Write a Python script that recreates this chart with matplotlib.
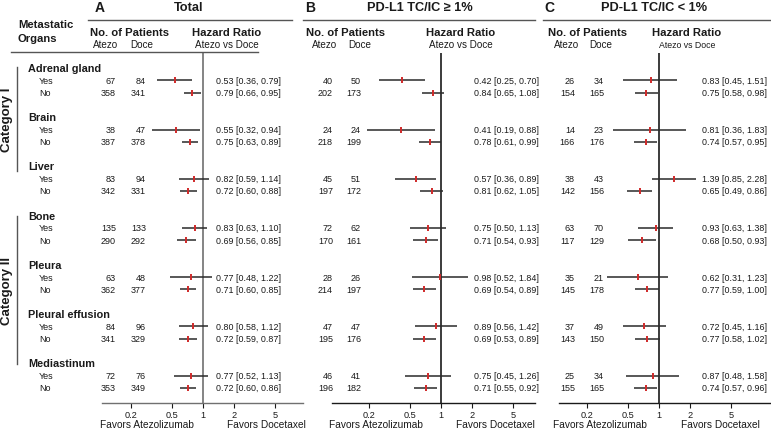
import matplotlib.pyplot as plt
import matplotlib.transforms as mtransforms

plt.rcParams['font.family'] = ['Liberation Sans', 'DejaVu Sans']

organs = ['Adrenal gland', 'Brain', 'Liver', 'Bone', 'Pleura',
          'Pleural effusion', 'Mediastinum']
row_labels = ['Yes', 'No']

# values per row: Adrenal Yes, Adrenal No, Brain Yes, Brain No, ...
total_atezo = [67, 358, 38, 387, 83, 342, 135, 290, 63, 362, 84, 341, 72, 353]
total_doce = [84, 341, 47, 378, 94, 331, 133, 292, 48, 377, 96, 329, 76, 349]
total_hr = [0.53, 0.79, 0.55, 0.75, 0.82, 0.72, 0.83, 0.69, 0.77, 0.71, 0.80, 0.72, 0.77, 0.72]
total_lo = [0.36, 0.66, 0.32, 0.63, 0.59, 0.60, 0.63, 0.56, 0.48, 0.60, 0.58, 0.59, 0.52, 0.60]
total_hi = [0.79, 0.95, 0.94, 0.89, 1.14, 0.88, 1.10, 0.85, 1.22, 0.85, 1.12, 0.87, 1.13, 0.86]

pos_atezo = [40, 202, 24, 218, 45, 197, 72, 170, 28, 214, 47, 195, 46, 196]
pos_doce = [50, 173, 24, 199, 51, 172, 62, 161, 26, 197, 47, 176, 41, 182]
pos_hr = [0.42, 0.84, 0.41, 0.78, 0.57, 0.81, 0.75, 0.71, 0.98, 0.69, 0.89, 0.69, 0.75, 0.71]
pos_lo = [0.25, 0.65, 0.19, 0.61, 0.36, 0.62, 0.50, 0.54, 0.52, 0.54, 0.56, 0.53, 0.45, 0.55]
pos_hi = [0.70, 1.08, 0.88, 0.99, 0.89, 1.05, 1.13, 0.93, 1.84, 0.89, 1.42, 0.89, 1.26, 0.92]

neg_atezo = [26, 154, 14, 166, 38, 142, 63, 117, 35, 145, 37, 143, 25, 155]
neg_doce = [34, 165, 23, 176, 43, 156, 70, 129, 21, 178, 49, 150, 34, 165]
neg_hr = [0.83, 0.75, 0.81, 0.74, 1.39, 0.65, 0.93, 0.68, 0.62, 0.77, 0.72, 0.77, 0.87, 0.74]
neg_lo = [0.45, 0.58, 0.36, 0.57, 0.85, 0.49, 0.63, 0.50, 0.31, 0.59, 0.45, 0.58, 0.48, 0.57]
neg_hi = [1.51, 0.98, 1.83, 0.95, 2.28, 0.86, 1.38, 0.93, 1.23, 1.00, 1.16, 1.02, 1.58, 0.96]

tick_values = [0.2, 0.5, 1, 2, 5]
tick_labels = ['0.2', '0.5', '1', '2', '5']

# layout in pixels
W, H = 771, 435
ROW0, ROW_H = 69, 12.3
TOP, BOTTOM = 54, 404.3
PX_DECADE = 103
TXT = '#1a1a1a'
RED = '#d02a2a'
BODY = 6.5


def fx(px):
    return px / W


def fy(py):
    return 1 - py / H


panels = [
    dict(letter='A', title='Total', atezo=total_atezo, doce=total_doce,
         hr=total_hr, lo=total_lo, hi=total_hi,
         left=102, right=303, one=203, letter_x=100, title_x=189, uline=(88, 292),
         pat_x=129, at_hdr=106, dc_hdr=142, at_x=116, dc_x=146,
         hr_hdr=227, hr_sub_fs=7.1, txt_x=216, fav=(147, 266), ref='#707070'),
    dict(letter='B', title='PD-L1 TC/IC \u2265 1%', atezo=pos_atezo, doce=pos_doce,
         hr=pos_hr, lo=pos_lo, hi=pos_hi,
         left=332, right=535, one=441, letter_x=310, title_x=420, uline=(303, 535),
         pat_x=346, at_hdr=325, dc_hdr=360, at_x=333, dc_x=361,
         hr_hdr=461, hr_sub_fs=7.1, txt_x=474, fav=(376, 495), ref='#1a1a1a'),
    dict(letter='C', title='PD-L1 TC/IC < 1%', atezo=neg_atezo, doce=neg_doce,
         hr=neg_hr, lo=neg_lo, hi=neg_hi,
         left=559, right=771, one=659, letter_x=549, title_x=654, uline=(543, 771),
         pat_x=587, at_hdr=567, dc_hdr=601, at_x=575, dc_x=604,
         hr_hdr=687, hr_sub_fs=6.3, txt_x=702, fav=(600, 720), ref='#1a1a1a'),
]

fig = plt.figure(figsize=(W / 100, H / 100), dpi=100)
ylim = ((BOTTOM - ROW0) / ROW_H, (TOP - ROW0) / ROW_H)

# row index of each data line (header, yes, no, blank)
data_rows = []
for i in range(len(organs)):
    data_rows += [4 * i + 1, 4 * i + 2]

axes = []
for p in panels:
    ax = fig.add_axes([fx(p['left']), fy(BOTTOM), fx(p['right'] - p['left']),
                       (BOTTOM - TOP) / H])
    ax.set_facecolor('none')
    ax.set_xscale('log')
    ax.set_xlim(10 ** ((p['left'] - p['one']) / PX_DECADE),
                10 ** ((p['right'] - p['one']) / PX_DECADE))
    ax.set_ylim(ylim)
    ax.hlines(data_rows, p['lo'], p['hi'], color='#2a2a2a', lw=1.1, zorder=2)
    ax.plot(p['hr'], data_rows, ls='none', marker='|', ms=5, mew=1.4, color=RED, zorder=3)
    ax.axvline(1, color=p['ref'], lw=1.2, zorder=1)
    for s in ['top', 'right', 'left']:
        ax.spines[s].set_visible(False)
    ax.spines['bottom'].set_color(p['ref'])
    ax.spines['bottom'].set_linewidth(1.0)
    ax.set_yticks([])
    ax.set_xticks(tick_values, tick_labels)
    ax.minorticks_off()
    ax.tick_params(axis='x', labelsize=6.6, length=3.5, width=0.8, pad=1.5,
                   colors=TXT)
    axes.append(ax)

rows_tr = mtransforms.blended_transform_factory(fig.transFigure, axes[0].transData)

# left label column
for i, organ in enumerate(organs):
    fig.text(fx(28), 4 * i, organ, transform=rows_tr, ha='left', va='center',
             fontsize=7.8, fontweight='bold', color=TXT)
    for j, lab in enumerate(row_labels):
        fig.text(fx(39), 4 * i + 1 + j, lab, transform=rows_tr, ha='left',
                 va='center', fontsize=BODY, color=TXT)

# panel columns
for p in panels:
    fig.text(fx(p['letter_x']), fy(8), p['letter'], ha='center', va='center',
             fontsize=10, fontweight='bold', color=TXT)
    fig.text(fx(p['title_x']), fy(8), p['title'], ha='center', va='center',
             fontsize=9.2, fontweight='bold', color=TXT)
    fig.add_artist(plt.Line2D([fx(p['uline'][0]), fx(p['uline'][1])], [fy(20.7)] * 2,
                              color='#555555', lw=1))
    fig.text(fx(p['pat_x']), fy(33), 'No. of Patients', ha='center', va='center',
             fontsize=8.1, fontweight='bold', color=TXT)
    fig.text(fx(p['at_hdr']), fy(45.5), 'Atezo', ha='center', va='center',
             fontsize=7.1, color=TXT)
    fig.text(fx(p['dc_hdr']), fy(45.5), 'Doce', ha='center', va='center',
             fontsize=7.1, color=TXT)
    fig.text(fx(p['hr_hdr']), fy(33), 'Hazard Ratio', ha='center', va='center',
             fontsize=8.1, fontweight='bold', color=TXT)
    fig.text(fx(p['hr_hdr']), fy(45.5), 'Atezo vs Doce', ha='center', va='center',
             fontsize=p['hr_sub_fs'], color=TXT)
    for r, a, d, hr, lo, hi in zip(data_rows, p['atezo'], p['doce'], p['hr'],
                                   p['lo'], p['hi']):
        fig.text(fx(p['at_x']), r, str(a), transform=rows_tr, ha='right',
                 va='center', fontsize=BODY, color=TXT)
        fig.text(fx(p['dc_x']), r, str(d), transform=rows_tr, ha='right',
                 va='center', fontsize=BODY, color=TXT)
        fig.text(fx(p['txt_x']), r, f'{hr:.2f} [{lo:.2f}, {hi:.2f}]',
                 transform=rows_tr, ha='left', va='center', fontsize=6.4, color=TXT)
    fig.text(fx(p['fav'][0]), fy(425.5), 'Favors Atezolizumab', ha='center',
             va='center', fontsize=7.3, color=TXT)
    fig.text(fx(p['fav'][1]), fy(425.5), 'Favors Docetaxel', ha='center',
             va='center', fontsize=7.3, color=TXT)

# header block on the left
fig.text(fx(18), fy(25), 'Metastatic', ha='left', va='center', fontsize=8.1,
         fontweight='bold', color=TXT)
fig.text(fx(18), fy(38.5), 'Organs', ha='left', va='center', fontsize=8.1,
         fontweight='bold', color=TXT)
fig.add_artist(plt.Line2D([fx(11), fx(258)], [fy(53.3)] * 2, color='#555555', lw=1))

# category brackets
fig.add_artist(plt.Line2D([fx(17)] * 2, [fy(68), fy(172)], color='#555555', lw=1))
fig.add_artist(plt.Line2D([fx(17)] * 2, [fy(217), fy(365)], color='#555555', lw=1))
fig.text(fx(7), fy(120), 'Category I', rotation=90, ha='center', va='center',
         fontsize=9.5, fontweight='bold', color=TXT)
fig.text(fx(7), fy(291), 'Category II', rotation=90, ha='center', va='center',
         fontsize=9.5, fontweight='bold', color=TXT)

fig.savefig('out.png', dpi=100)
